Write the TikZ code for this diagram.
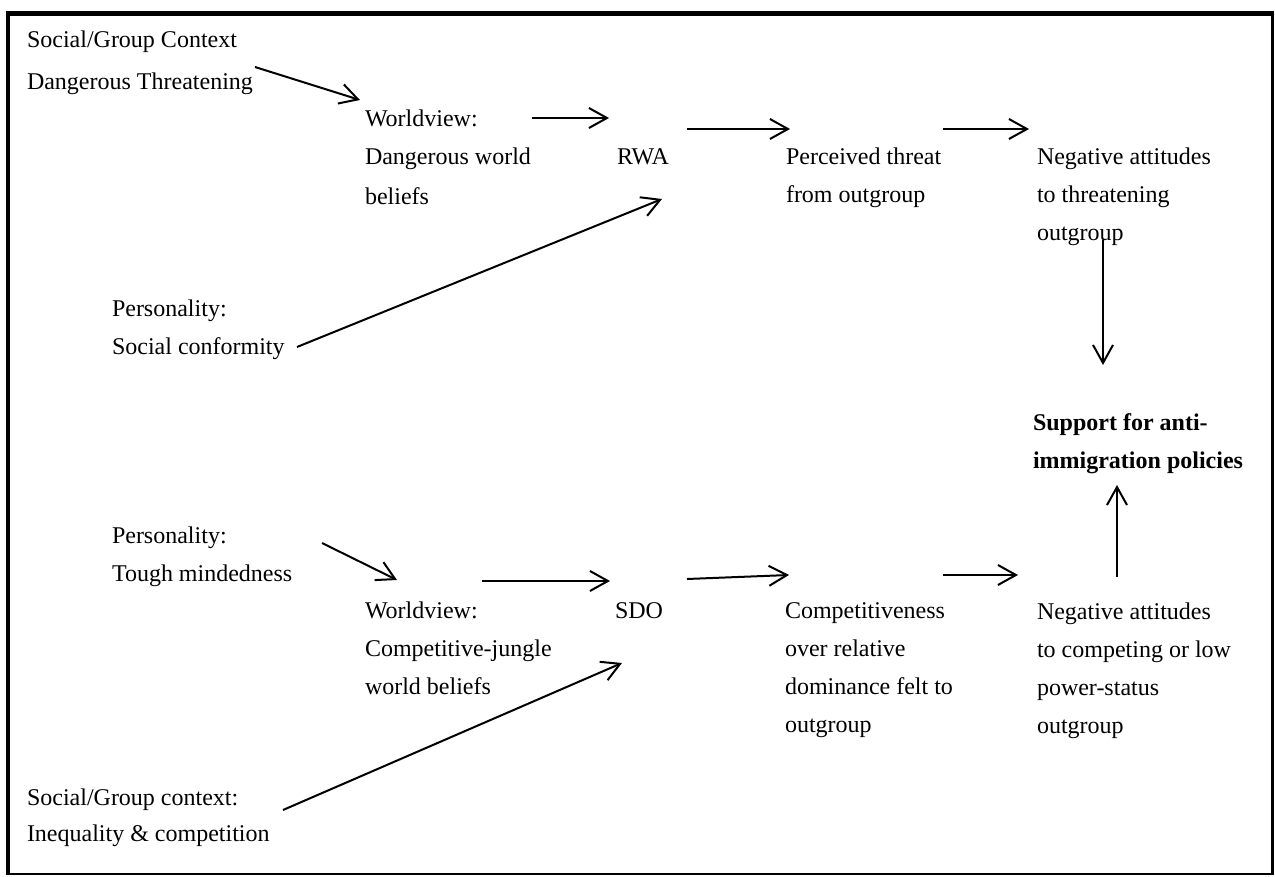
\documentclass[tikz,border=0pt]{standalone}
\usepackage{fontspec}
\setmainfont{Liberation Serif}
\usetikzlibrary{arrows.meta}

% stacked lines, baseline of the box = baseline of the first line
\newcommand{\stackl}[1]{\begin{tabular}[t]{@{}l@{}}#1\end{tabular}}

\begin{document}
\begin{tikzpicture}[x=0.5pt,y=-0.5pt,
  lbl/.style={anchor=base west,inner sep=0pt,outer sep=0pt,
    font=\fontsize{12}{19}\selectfont},
  flow/.style={line width=1pt,-{Straight Barb[length=9pt,width=10pt,line width=1pt]}}]

\useasboundingbox (0,0) rectangle (1275,877);

% outer frame
\draw[line width=1.2pt] (8,13.5) rectangle (1272.5,874);
\draw[line width=2pt] (8,12) -- (8,875);
\draw[line width=2.5pt] (6,13.5) -- (1274,13.5);

% upper chain
\node[lbl] (ctx1) at (27,48) {\stackl{Social/Group Context\\[2pt] Dangerous Threatening}};
\node[lbl] (wv1)  at (365,127) {\stackl{Worldview:\\ Dangerous world\\[1pt] beliefs}};
\node[lbl] (rwa)  at (617,165) {RWA};
\node[lbl] (thr)  at (786,165) {\stackl{Perceived threat\\ from outgroup}};
\node[lbl] (neg1) at (1037,165) {\stackl{Negative attitudes\\ to threatening\\ outgroup}};
\node[lbl] (pers1) at (112,317) {\stackl{Personality:\\ Social conformity}};

% outcome
\node[lbl,font=\fontsize{12}{19}\selectfont\bfseries] (sup) at (1033,430)
  {\stackl{Support for anti-\\ immigration policies}};

% lower chain
\node[lbl] (pers2) at (112,543) {\stackl{Personality:\\ Tough mindedness}};
\node[lbl] (wv2)  at (365,618) {\stackl{Worldview:\\ Competitive-jungle\\ world beliefs}};
\node[lbl] (sdo)  at (615,618) {SDO};
\node[lbl] (comp) at (785,618) {\stackl{Competitiveness\\ over relative\\ dominance felt to\\ outgroup}};
\node[lbl] (neg2) at (1037,619) {\stackl{Negative attitudes\\ to competing or low\\ power-status\\ outgroup}};
\node[lbl] (ctx2) at (27,805) {\stackl{Social/Group context:\\[-1pt] Inequality \& competition}};

% connectors
\draw[flow] ([shift={(228,19)}]ctx1.base west) -- ([shift={(-5,-27)}]wv1.base west);
\draw[flow] ([shift={(167,-9)}]wv1.base west) -- ([shift={(-8,-47)}]rwa.base west);
\draw[flow] ([shift={(70,-36)}]rwa.base west) -- ([shift={(4,-36)}]thr.base west);
\draw[flow] ([shift={(157,-36)}]thr.base west) -- ([shift={(-8,-36)}]neg1.base west);
\draw[flow] ([shift={(185,30)}]pers1.base west) -- ([shift={(45,34)}]rwa.base west);
\draw[flow] ([shift={(66,75)}]neg1.base west) -- ([shift={(70,-65)}]sup.base west);

\draw[flow] ([shift={(210,0)}]pers2.base west) -- ([shift={(32,-38)}]wv2.base west);
\draw[flow] ([shift={(117,-37)}]wv2.base west) -- ([shift={(-5,-37)}]sdo.base west);
\draw[flow] ([shift={(72,-39)}]sdo.base west) -- ([shift={(4,-43)}]comp.base west);
\draw[flow] ([shift={(256,5)}]ctx2.base west) -- ([shift={(7,45)}]sdo.base west);
\draw[flow] ([shift={(158,-43)}]comp.base west) -- ([shift={(-19,-44)}]neg2.base west);
\draw[flow] ([shift={(80,-42)}]neg2.base west) -- ([shift={(84,55)}]sup.base west);

\end{tikzpicture}
\end{document}
